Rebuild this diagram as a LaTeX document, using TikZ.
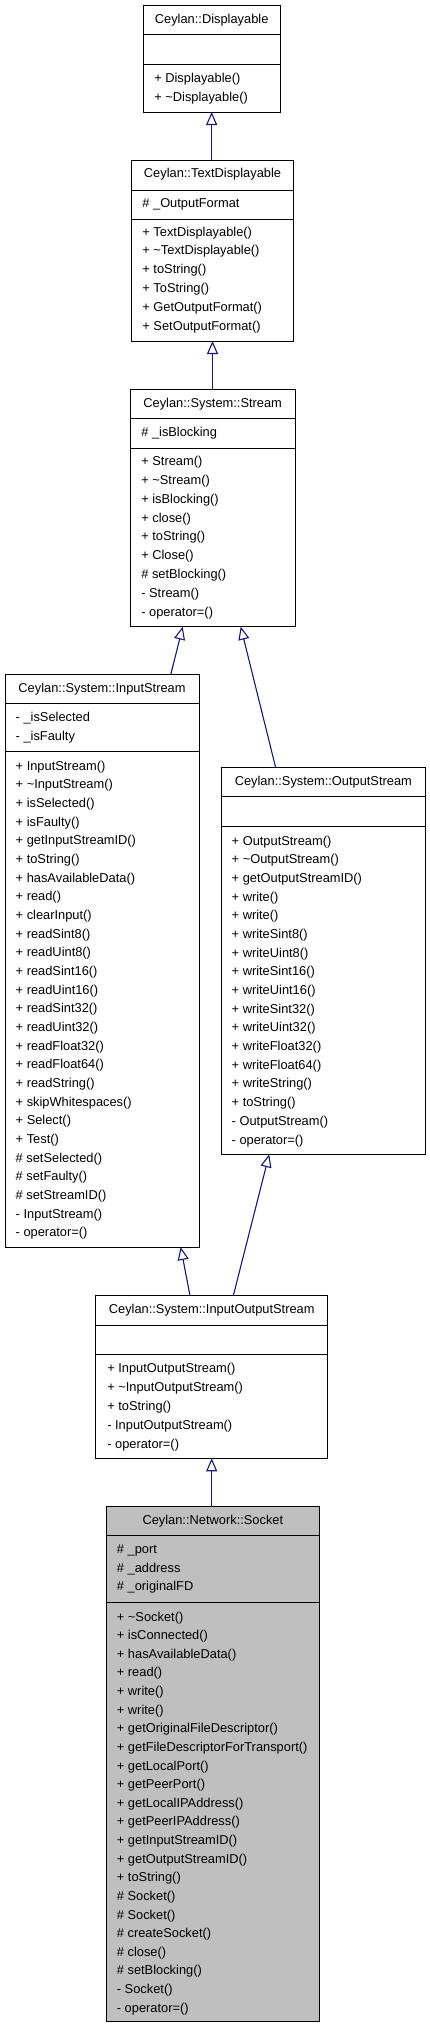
\documentclass[tikz,border=0pt]{standalone}
\usepackage{fontspec}
\setmainfont{Liberation Sans}
\usetikzlibrary{arrows.meta}
\definecolor{edgeblue}{RGB}{25,25,112}
\definecolor{sockgray}{RGB}{191,191,191}
\newcommand\rowlist[5]{%
  \foreach \t [count=\i] in {#5} {\node[mem] (#1\i) at (#2,{#3+(\i-1)*#4+5}) {\t};}}
\tikzset{
  box/.style={draw=black, line width=0.9pt, fill=white, rectangle, inner sep=0pt, outer sep=0pt, anchor=north west},
  sep/.style={draw=black, line width=0.9pt},
  mem/.style={anchor=base west, inner sep=0pt, outer sep=0pt, font=\fontsize{12.85pt}{15pt}\selectfont},
  ttl/.style={anchor=base, inner sep=0pt, outer sep=0pt, font=\fontsize{12.85pt}{15pt}\selectfont},
  inh/.style={draw=edgeblue, line width=1.1pt, -{Triangle[length=13pt,width=11pt,fill=white]}}
}
\begin{document}
\begin{tikzpicture}[x=1pt,y=-1pt]
\useasboundingbox (0,0) rectangle (429,2029);
% Displayable
\node[box, minimum width=136.7pt, minimum height=107pt] (disp) at (143.3,5) {};
\draw[sep] (disp.west |- 0,34) -- (disp.east |- 0,34);
\draw[sep] (disp.west |- 0,64) -- (disp.east |- 0,64);
\node[ttl] (dispt) at (211.65,23.3) {Ceylan::Displayable};
\rowlist{dispm}{154.3}{77}{19}{{+ Displayable()},{+ \textasciitilde Displayable()}}
% TextDisplayable
\node[box, minimum width=161.6pt, minimum height=181pt] (td) at (131.7,160) {};
\draw[sep] (td.west |- 0,190) -- (td.east |- 0,190);
\draw[sep] (td.west |- 0,219) -- (td.east |- 0,219);
\node[ttl] (tdt) at (212.5,177.7) {Ceylan::TextDisplayable};
\rowlist{tda}{142.4}{202.7}{18.8}{{\# \_OutputFormat}}
\rowlist{tdm}{142.4}{231}{18.8}{{+ TextDisplayable()},{+ \textasciitilde TextDisplayable()},{+ toString()},{+ ToString()},{+ GetOutputFormat()},{+ SetOutputFormat()}}
% Stream
\node[box, minimum width=164.7pt, minimum height=237.4pt] (st) at (130.3,389.3) {};
\draw[sep] (st.west |- 0,418.7) -- (st.east |- 0,418.7);
\draw[sep] (st.west |- 0,448) -- (st.east |- 0,448);
\node[ttl] (stt) at (212.65,407.7) {Ceylan::System::Stream};
\rowlist{sta}{141.3}{431.7}{18.8}{{\# \_isBlocking}}
\rowlist{stm}{141.3}{460.7}{18.8}{{+ Stream()},{+ \textasciitilde Stream()},{+ isBlocking()},{+ close()},{+ toString()},{+ Close()},{\# setBlocking()},{- Stream()},{- operator=()}}
% InputStream
\node[box, minimum width=194pt, minimum height=572.3pt] (ins) at (5,674.7) {};
\draw[sep] (ins.west |- 0,703.7) -- (ins.east |- 0,703.7);
\draw[sep] (ins.west |- 0,751.7) -- (ins.east |- 0,751.7);
\node[ttl] (inst) at (102,692.3) {Ceylan::System::InputStream};
\rowlist{insa}{15.7}{716.7}{18.7}{{- \_isSelected},{- \_isFaulty}}
\rowlist{insm}{15.7}{765}{18.67}{{+ InputStream()},{+ \textasciitilde InputStream()},{+ isSelected()},{+ isFaulty()},{+ getInputStreamID()},{+ toString()},{+ hasAvailableData()},{+ read()},{+ clearInput()},{+ readSint8()},{+ readUint8()},{+ readSint16()},{+ readUint16()},{+ readSint32()},{+ readUint32()},{+ readFloat32()},{+ readFloat64()},{+ readString()},{+ skipWhitespaces()},{+ Select()},{+ Test()},{\# setSelected()},{\# setFaulty()},{\# setStreamID()},{- InputStream()},{- operator=()}}
% OutputStream
\node[box, minimum width=204.7pt, minimum height=386.6pt] (outs) at (221,767.7) {};
\draw[sep] (outs.west |- 0,796.7) -- (outs.east |- 0,796.7);
\draw[sep] (outs.west |- 0,826.7) -- (outs.east |- 0,826.7);
\node[ttl] (outst) at (323.35,785.7) {Ceylan::System::OutputStream};
\rowlist{outsm}{231.7}{840}{18.69}{{+ OutputStream()},{+ \textasciitilde OutputStream()},{+ getOutputStreamID()},{+ write()},{+ write()},{+ writeSint8()},{+ writeUint8()},{+ writeSint16()},{+ writeUint16()},{+ writeSint32()},{+ writeUint32()},{+ writeFloat32()},{+ writeFloat64()},{+ writeString()},{+ toString()},{- OutputStream()},{- operator=()}}
% InputOutputStream
\node[box, minimum width=232pt, minimum height=162.6pt] (ios) at (95.7,1295.7) {};
\draw[sep] (ios.west |- 0,1325) -- (ios.east |- 0,1325);
\draw[sep] (ios.west |- 0,1354.3) -- (ios.east |- 0,1354.3);
\node[ttl] (iost) at (211.7,1313.3) {Ceylan::System::InputOutputStream};
\rowlist{iosm}{107.3}{1367.7}{18.9}{{+ InputOutputStream()},{+ \textasciitilde InputOutputStream()},{+ toString()},{- InputOutputStream()},{- operator=()}}
% Socket
\node[box, fill=sockgray, minimum width=212.3pt, minimum height=515pt] (sock) at (106.7,1506.7) {};
\draw[sep] (sock.west |- 0,1535.7) -- (sock.east |- 0,1535.7);
\draw[sep] (sock.west |- 0,1602.7) -- (sock.east |- 0,1602.7);
\node[ttl] (sockt) at (212.85,1524.3) {Ceylan::Network::Socket};
\rowlist{socka}{116.9}{1548.3}{18.7}{{\# \_port},{\# \_address},{\# \_originalFD}}
\rowlist{sockm}{116.9}{1616}{18.63}{{+ \textasciitilde Socket()},{+ isConnected()},{+ hasAvailableData()},{+ read()},{+ write()},{+ write()},{+ getOriginalFileDescriptor()},{+ getFileDescriptorForTransport()},{+ getLocalPort()},{+ getPeerPort()},{+ getLocalIPAddress()},{+ getPeerIPAddress()},{+ getInputStreamID()},{+ getOutputStreamID()},{+ toString()},{\# Socket()},{\# Socket()},{\# createSocket()},{\# close()},{\# setBlocking()},{- Socket()},{- operator=()}}
% inheritance arrows
\draw[inh] (td.north -| disp.south) -- (disp.south);
\draw[inh] (st.north -| td.south) -- (td.south);
\draw[inh] ([xshift=68.7pt]ins.north) -- ([xshift=-29.95pt]st.south);
\draw[inh] ([xshift=-47.65pt]outs.north) -- ([xshift=28.05pt]st.south);
\draw[inh] ([xshift=-21.7pt]ios.north) -- ([xshift=78.7pt]ins.south);
\draw[inh] ([xshift=21.6pt]ios.north) -- ([xshift=-54.15pt]outs.south);
\draw[inh] (sock.north -| ios.south) -- (ios.south);
\end{tikzpicture}
\end{document}
